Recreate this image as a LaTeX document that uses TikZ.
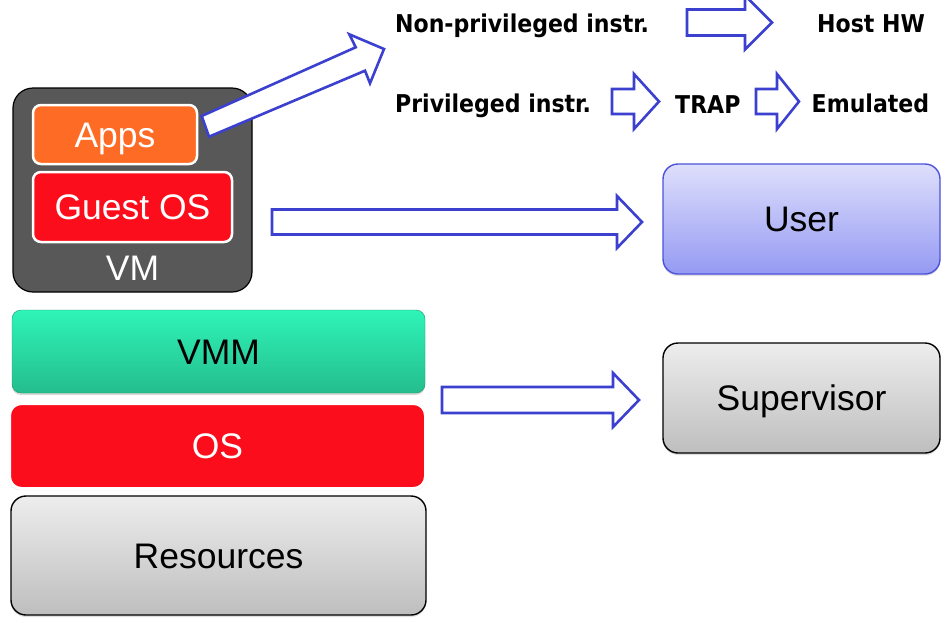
\documentclass[tikz,border=0pt]{standalone}
\usepackage{fontspec}
\setmainfont{Liberation Sans}
\newfontfamily\labfont{DejaVu Sans Condensed Bold}
\usetikzlibrary{shadows}
\definecolor{arrowblue}{HTML}{3B40CF}
\definecolor{appsorange}{HTML}{FD6B24}
\definecolor{osred}{HTML}{FC0D1B}
\definecolor{vmgray}{HTML}{585858}
\definecolor{vmmtop}{HTML}{2FF4B8}
\definecolor{vmmbot}{HTML}{24BD8C}
\definecolor{usertop}{HTML}{DEDFFB}
\definecolor{userbot}{HTML}{959AF3}
\definecolor{userline}{HTML}{4D52DC}
\definecolor{graytop}{HTML}{EDEDED}
\definecolor{graybot}{HTML}{BEBEBE}
\tikzset{
  mainfont/.style={font=\fontsize{35.5}{42}\selectfont},
  labtext/.style={font=\labfont\fontsize{24.5}{28}\selectfont, inner sep=0pt},
  box/.style={rectangle, inner sep=0pt, mainfont, text height=25.4pt, text depth=0pt},
  vmbox/.style={box, draw=black, line width=1.2, fill=vmgray, rounded corners=20pt},
  appsbox/.style={box, draw=white, line width=2.5, fill=appsorange, rounded corners=8pt, text=white},
  redbox/.style={box, draw=white, line width=2.5, fill=osred, rounded corners=8pt, text=white},
  vmmbox/.style={box, top color=vmmtop, bottom color=vmmbot, draw=vmmbot!80!black, line width=0.4, rounded corners=9pt,
     drop shadow={opacity=0.3, shadow xshift=0pt, shadow yshift=-2pt}},
  osbox/.style={box, draw=white, line width=3, fill=osred, rounded corners=12pt, text=white,
     drop shadow={opacity=0.2, shadow xshift=0pt, shadow yshift=-1.5pt, shadow scale=1.005}},
  graybox/.style={box, top color=graytop, bottom color=graybot, draw=black, line width=1.4, rounded corners=15pt,
     drop shadow={opacity=0.25, shadow xshift=0pt, shadow yshift=-2pt}},
  userbox/.style={box, top color=usertop, bottom color=userbot, draw=userline, line width=1.4, rounded corners=15pt,
     drop shadow={opacity=0.25, shadow xshift=0pt, shadow yshift=-2pt}},
  fat/.style={draw=arrowblue, line width=2.6, fill=white, line join=miter},
}
\begin{document}
\begin{tikzpicture}[x=1pt,y=-1pt]
\useasboundingbox (0,0) rectangle (950,622);

% VM
\node[vmbox, minimum width=239, minimum height=204] (vm) at (132.5,190) {};
\node[appsbox, minimum width=164, minimum height=59] (apps) at (115,134.5) {Apps};
\node[redbox, minimum width=199, minimum height=70] (guest) at (132.5,207) {Guest OS};
\node[box, text=white] (vmlabel) at (132.5,268) {VM};

% stack
\node[vmmbox, minimum width=413, minimum height=83] (vmm) at (218.5,351.5) {VMM};
\node[osbox, minimum width=416, minimum height=85] (os) at (217.5,446) {OS};
\node[graybox, minimum width=415, minimum height=119] (res) at (218.5,555.5) {Resources};

% modes
\node[userbox, minimum width=277, minimum height=110] (user) at (801.5,219) {User};
\node[graybox, minimum width=277, minimum height=110] (sup) at (801.5,398) {Supervisor};

% labels
\node[labtext, anchor=base west] (nonpriv) at (395,32) {Non-privileged instr.};
\node[labtext, anchor=base west] (priv) at (395,112.5) {Privileged instr.};
\node[labtext, anchor=base west] (trap) at (675,113) {TRAP};
\node[labtext, anchor=base west] (host) at (817,32) {Host HW};
\node[labtext, anchor=base west] (emu) at (811.5,112) {Emulated};

% fat arrows
\draw[fat] (201.7,116) -- (355.7,47.3) -- (349.3,34.3) -- (384,49) -- (370,83.3) -- (365,70.7) -- (209,136.7) -- cycle;
\draw[fat] (272,209.5) -- (617,209.5) -- (617,196) -- (642,222) -- (617,248) -- (617,234.5) -- (272,234.5) -- cycle;
\draw[fat] (442,387) -- (613,387) -- (613,373) -- (639,400) -- (613,427) -- (613,413) -- (442,413) -- cycle;
\draw[fat] (687,9.5) -- (745,9.5) -- (745,-4.5) -- (772,22.5) -- (745,49.5) -- (745,35.5) -- (687,35.5) -- cycle;
\draw[fat] (612,89) -- (634,89) -- (634,74) -- (659,101.5) -- (634,129) -- (634,114) -- (612,114) -- cycle;
\draw[fat] (756,89) -- (777,89) -- (777,74) -- (799,101.5) -- (777,129) -- (777,114) -- (756,114) -- cycle;
\end{tikzpicture}
\end{document}
